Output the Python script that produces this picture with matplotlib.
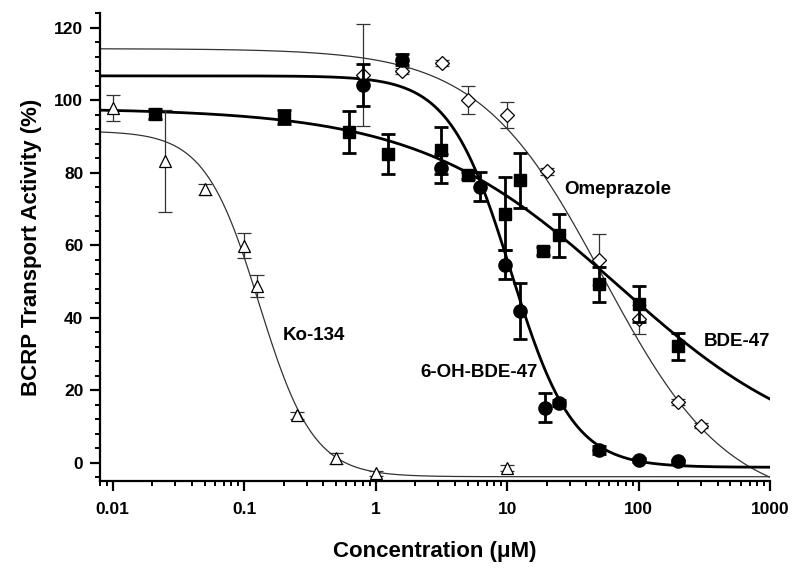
import matplotlib
matplotlib.use('Agg')
import matplotlib.pyplot as plt
import numpy as np
from matplotlib.ticker import FixedLocator, MultipleLocator, LogLocator, NullFormatter

plt.rcParams['font.family'] = ['Liberation Sans', 'DejaVu Sans']
plt.rcParams['font.weight'] = 'bold'

# measured points (concentration in uM, activity in %, error)
ko_x = [0.01, 0.025, 0.05, 0.1, 0.125, 0.25, 0.5, 1, 10]
ko_y = [97.8, 83.2, 75.4, 59.9, 48.8, 13.1, 1.3, -2.9, -1.3]
ko_err = [3.5, 14, 1.5, 3.5, 3, 1, 1.5, 0.8, 0.8]

ome_x = [0.8, 1.6, 3.2, 5, 10, 20, 50, 100, 200, 300]
ome_y = [107, 108, 110.2, 100.1, 95.9, 80.4, 56, 39.6, 16.8, 10.3]
ome_err = [14, 0.8, 0.8, 3.8, 3.7, 1, 7, 4, 0.8, 0.8]

oh_x = [0.8, 1.6, 3.125, 6.25, 9.6, 12.5, 19.5, 25, 50, 100, 200]
oh_y = [104.2, 111.2, 81.2, 76.1, 54.6, 41.9, 15.2, 16.5, 3.6, 0.8, 0.4]
oh_err = [5.8, 1.5, 4, 4, 4, 7.7, 4, 0.8, 1, 0.5, 0.5]

bde_x = [0.021, 0.2, 0.625, 1.25, 3.125, 5, 9.6, 12.5, 18.7, 25, 50, 100, 200]
bde_y = [96.2, 95.3, 91.3, 85.1, 86.2, 79.3, 68.7, 77.9, 58.4, 62.7, 49.3, 43.8, 32.2]
bde_err = [1.5, 2, 5.8, 5.5, 6.5, 1, 10, 7.5, 1, 6, 4.8, 5, 3.7]

# fitted sigmoid parameters: top, bottom, IC50, hill slope
ko_fit = (91.5, -3.8, 0.13, 2.1)
ome_fit = (114.2, -12.0, 54.0, 0.92)
oh_fit = (106.7, -1.2, 10.7, 1.85)
bde_fit = (97.8, 0.0, 70.0, 0.57)


def hill(x, p):
    top, bot, ic, h = p
    return bot + (top - bot) / (1 + (x / ic) ** h)


fig = plt.figure(figsize=(8, 5.7), dpi=100)
ax = fig.add_axes([0.125, 0.156, 0.8375, 0.821])

xs = np.logspace(np.log10(0.008), 3, 400)

# curves
ax.plot(xs, hill(xs, ko_fit), color='#333333', lw=0.9, zorder=2)
ax.plot(xs, hill(xs, ome_fit), color='#333333', lw=0.9, zorder=2)
ax.plot(xs, hill(xs, oh_fit), color='black', lw=2.0, zorder=2)
ax.plot(xs, hill(xs, bde_fit), color='black', lw=2.0, zorder=2)

# points with error bars
ax.errorbar(ko_x, ko_y, yerr=ko_err, fmt='^', ms=8, mfc='white', mec='black',
            mew=0.9, ecolor='#333333', elinewidth=0.9, capsize=5, capthick=0.9, zorder=3)
ax.errorbar(ome_x, ome_y, yerr=ome_err, fmt='D', ms=7.5, mfc='white', mec='black',
            mew=0.9, ecolor='#333333', elinewidth=0.9, capsize=5, capthick=0.9, zorder=3)
ax.errorbar(bde_x, bde_y, yerr=bde_err, fmt='s', ms=8.5, mfc='black', mec='black',
            ecolor='black', elinewidth=2, capsize=5, capthick=2, zorder=4)
ax.errorbar(oh_x, oh_y, yerr=oh_err, fmt='o', ms=9.5, mfc='black', mec='black',
            ecolor='black', elinewidth=2, capsize=5, capthick=2, zorder=4)

# series labels
ax.text(27, 75.3, 'Omeprazole', fontsize=13.5, fontweight='bold', va='center', ha='left')
ax.text(312, 33.6, 'BDE-47', fontsize=13.5, fontweight='bold', va='center', ha='left')
ax.text(2.18, 25, '6-OH-BDE-47', fontsize=13.5, fontweight='bold', va='center', ha='left')
ax.text(0.197, 35, 'Ko-134', fontsize=13.5, fontweight='bold', va='center', ha='left')

ax.set_xscale('log')
ax.set_xlim(0.008, 1000)
ax.set_ylim(-5, 124)

ax.xaxis.set_major_locator(FixedLocator([0.01, 0.1, 1, 10, 100, 1000]))
ax.set_xticklabels(['0.01', '0.1', '1', '10', '100', '1000'])
ax.xaxis.set_minor_locator(LogLocator(base=10, subs=np.arange(2, 10)))
ax.xaxis.set_minor_formatter(NullFormatter())
ax.yaxis.set_major_locator(MultipleLocator(20))
ax.yaxis.set_minor_locator(MultipleLocator(4))

for s in ['top', 'right']:
    ax.spines[s].set_visible(False)
for s in ['left', 'bottom']:
    ax.spines[s].set_linewidth(1.6)

ax.tick_params(which='major', direction='out', length=7, width=1.6, labelsize=12.5)
ax.tick_params(axis='x', which='major', pad=8)
ax.tick_params(axis='y', which='major', pad=5)
ax.tick_params(which='minor', direction='out', length=3.5, width=1.4)
for lab in ax.get_xticklabels() + ax.get_yticklabels():
    lab.set_fontweight('bold')

ax.set_xlabel('Concentration (\u03bcM)', fontsize=16, fontweight='bold', labelpad=17)
ax.set_ylabel('BCRP Transport Activity (%)', fontsize=16, fontweight='bold', labelpad=9)

fig.savefig('out.png', dpi=100)
